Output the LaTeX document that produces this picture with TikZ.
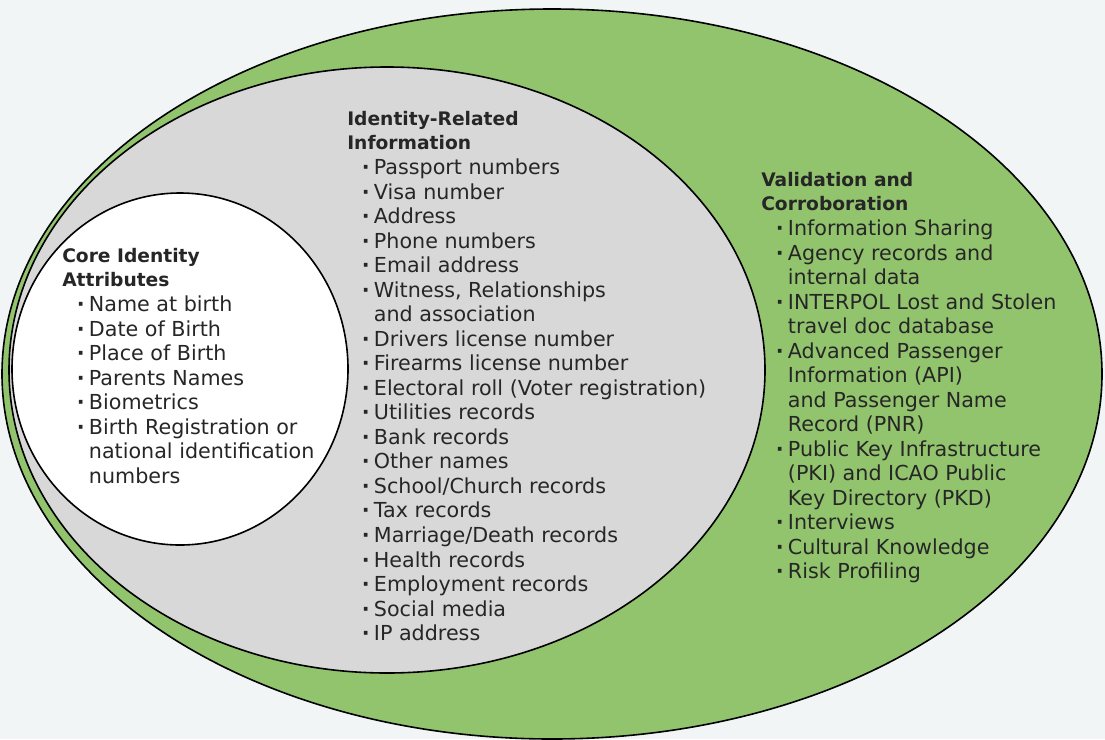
\documentclass[tikz,border=0pt]{standalone}
\usepackage{fontspec}
\setmainfont{DejaVu Sans}
\usepackage{tikz}
\usetikzlibrary{shapes,positioning,calc}

\definecolor{ringgreen}{RGB}{146,196,110}
\definecolor{ringgray}{RGB}{216,216,216}
\definecolor{bgpaper}{RGB}{242,245,246}
\definecolor{inktext}{RGB}{38,38,38}

\newcommand{\hd}[1]{{\fontsize{14}{18.4}\selectfont\bfseries #1}}
\newcommand{\bul}[1]{\hspace*{11pt}\makebox[9pt][l]{\textbf{·}}#1}
\newcommand{\cont}[1]{\hspace*{20pt}#1}

\begin{document}
\begin{tikzpicture}[x=0.75pt,y=-0.75pt,
    ring/.style={ellipse, draw=black, line width=1.2pt, inner sep=0pt},
    listtext/.style={anchor=north west, align=left, inner sep=0pt, text=inktext,
        font=\fontsize{15.5}{18.4}\selectfont}]

    % Background
    \fill [bgpaper] (0,0) rectangle (1105,739);
    \useasboundingbox (0,0) rectangle (1105,739);

    % Rings
    \node [ring, fill=ringgreen, minimum width=825pt, minimum height=547.5pt] (outerring) at (552,374) {};
    \node [ring, fill=ringgray, minimum width=567pt, minimum height=454.5pt] (midring) at (387,370) {};
    \node [ring, fill=white, minimum width=252pt, minimum height=264pt] (innerring) at (180,369) {};

    % Inner list
    \node [listtext] (coretext) at (62,248) {\hd{Core Identity}\\ \hd{Attributes}\\
        \bul{Name at birth}\\ \bul{Date of Birth}\\ \bul{Place of Birth}\\
        \bul{Parents Names}\\ \bul{Biometrics}\\ \bul{Birth Registration or}\\
        \cont{national identification}\\ \cont{numbers}};

    % Middle list
    \node [listtext] (idtext) at (347,111) {\hd{Identity-Related}\\ \hd{Information}\\
        \bul{Passport numbers}\\ \bul{Visa number}\\ \bul{Address}\\
        \bul{Phone numbers}\\ \bul{Email address}\\ \bul{Witness, Relationships}\\
        \cont{and association}\\ \bul{Drivers license number}\\
        \bul{Firearms license number}\\ \bul{Electoral roll (Voter registration)}\\
        \bul{Utilities records}\\ \bul{Bank records}\\ \bul{Other names}\\
        \bul{School/Church records}\\ \bul{Tax records}\\ \bul{Marriage/Death records}\\
        \bul{Health records}\\ \bul{Employment records}\\ \bul{Social media}\\
        \bul{IP address}};

    % Outer list
    \node [listtext] (validtext) at (761,172) {\hd{Validation and}\\ \hd{Corroboration}\\
        \bul{Information Sharing}\\ \bul{Agency records and}\\ \cont{internal data}\\
        \bul{INTERPOL Lost and Stolen}\\ \cont{travel doc database}\\
        \bul{Advanced Passenger}\\ \cont{Information (API)}\\ \cont{and Passenger Name}\\
        \cont{Record (PNR)}\\ \bul{Public Key Infrastructure}\\
        \cont{(PKI) and ICAO Public}\\ \cont{Key Directory (PKD)}\\
        \bul{Interviews}\\ \bul{Cultural Knowledge}\\ \bul{Risk Profiling}};

\end{tikzpicture}
\end{document}
